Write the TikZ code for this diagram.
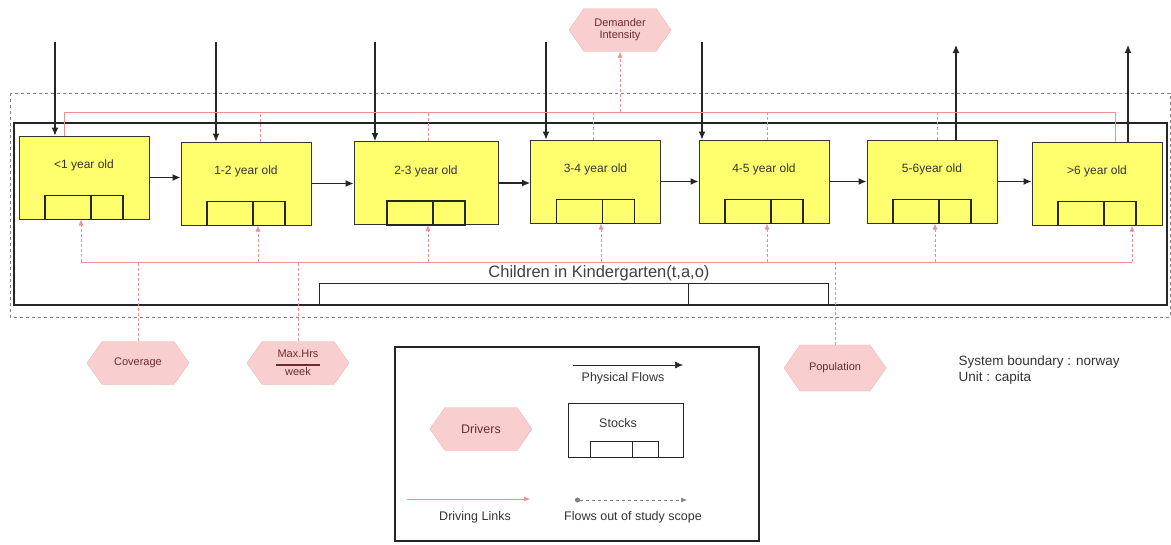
\documentclass[tikz,border=0pt]{standalone}
\usepackage{fontspec}
\setmainfont{Liberation Sans}
\usetikzlibrary{shapes.symbols, arrows.meta, calc}
\tikzset{>={Latex[length=8pt,width=7pt]}}
\definecolor{stockyellow}{RGB}{255,255,110}
\definecolor{driverpink}{RGB}{249,206,206}
\definecolor{driverline}{RGB}{240,178,178}
\definecolor{linkpink}{RGB}{240,145,145}
\definecolor{drivertext}{RGB}{105,45,45}

\begin{document}
\begin{tikzpicture}[
  x=1pt, y=-1pt,
  stockbox/.style={rectangle, draw=black!80, fill=stockyellow, line width=1pt, minimum height=83pt},
  agelabel/.style={font=\fontsize{12}{14}\selectfont, text=black!80},
  driver/.style={signal, signal to=west and east, signal pointer angle=110, draw=driverline, fill=driverpink, minimum width=102pt, minimum height=43pt, text=drivertext, font=\fontsize{11}{12}\selectfont, inner sep=2pt, align=center},
  flow/.style={->, line width=1.1pt, black!85},
  drivelink/.style={-{Latex[length=6pt,width=5pt]}, linkpink, line width=0.6pt},
  linkline/.style={linkpink, line width=0.6pt},
  labelstyle/.style={font=\fontsize{12.5}{15}\selectfont, text=black!80}
]
\useasboundingbox (0,0) rectangle (1171,544);

% System boundaries
\draw[gray, dashed, line width=1pt] (10,93) rectangle (1170,317);
\draw[black!85, line width=2pt] (14,123) rectangle (1167,305);

% Stocks of children by age
\foreach \n/\x/\y/\w/\t in {b1/84/177.5/130/{<1 year old}, b2/246/183.5/130/{1-2 year old}, b3/426/183/144/{2-3 year old}, b4/595.5/181.5/130/{3-4 year old}, b5/764/181.5/130/{4-5 year old}, b6/932/181.5/130/{5-6year old}, b7/1097/183.5/130/{>6 year old}}{
  \node[stockbox, minimum width=\w pt] (\n) at (\x,\y) {};
  \node[agelabel] (\n-t) at ([yshift=-30pt]\n.north) {\t};
  \draw[line width=1.3pt, black!85] ([xshift=-39pt]\n.south) rectangle ([xshift=39pt, yshift=24pt]\n.south);
  \draw[line width=1.3pt, black!85] ([xshift=7pt]\n.south) -- ([xshift=7pt, yshift=24pt]\n.south);
}

% Total stock
\node[font=\fontsize{16.5}{18}\selectfont, text=black!75] (kg) at (599,273) {Children in Kindergarten(t,a,o)};
\draw[black!85, line width=1pt] (319,305) -- (319,283) -- (828,283) -- (828,305);
\draw[black!85, line width=1pt] (688,283) -- (688,305);

% Physical flows between age groups
\draw[flow] (b1.east) -- (b1.east -| b2.west);
\draw[flow] (b2.east) -- (b2.east -| b3.west);
\draw[flow] (b3.east) -- (b3.east -| b4.west);
\draw[flow] (b4.east) -- (b4.east -| b5.west);
\draw[flow] (b5.east) -- (b5.east -| b6.west);
\draw[flow] (b6.east) -- (b6.east -| b7.west);

% Inflows from above
\foreach \n/\x in {b1/55, b2/216, b3/375, b4/546, b5/702}{
  \coordinate (in-\n) at (\x,42);
  \draw[flow] (in-\n) -- (in-\n |- \n.north);
}

% Outflows
\coordinate (out-b6) at (956,45);
\coordinate (out-b7) at (1128,45);
\draw[flow] (out-b6 |- b6.north) -- (out-b6);
\draw[flow] (out-b7 |- b7.north) -- (out-b7);

% Drivers
\node[driver] (dint) at (620,30) {Demander\\Intensity};
\node[driver] (cov) at (138,363) {Coverage};
\node[driver] (maxhrs) at (298,363) {Max.Hrs\\[-4pt]\rule{44pt}{1.5pt}\\[-2pt]week};
\node[driver, minimum height=46pt] (pop) at (835,368) {Population};

% Driving links to demand intensity
\coordinate (tl) at (64,112);
\coordinate (tr) at (1115,112);
\draw[linkline] (tl |- b1.north) -- (tl) -- (tr) -- (tr |- b7.north);
\foreach \n/\x in {b2/260, b3/428, b4/593, b5/767, b6/937}
  \draw[linkline, densely dashed] (\x,0 |- \n.north) -- (\x,112);
\draw[drivelink, densely dashed] (dint |- tl) -- (dint.south);

% Driving links into the stocks
\coordinate (bl) at (81,262);
\coordinate (br) at (1132,262);
\draw[linkline] (bl) -- (br);
\foreach \n/\x in {b1/81, b2/258, b3/428, b4/601, b5/767, b6/935, b7/1132}
  \draw[drivelink, densely dashed] (\x,262) -- (\x,0 |- \n.south);
\draw[linkline, densely dashed] (cov.north) -- (cov |- bl);
\draw[linkline, densely dashed] (maxhrs.north) -- (maxhrs |- bl);
\draw[linkline, densely dashed] (pop.north) -- (pop |- bl);

% System info
\node[anchor=west, align=left, font=\fontsize{13.5}{16}\selectfont, text=black!80] (sysb) at (955,370) {System boundary : norway\\Unit : capita};

% Legend
\node[draw=black!85, line width=1.2pt, minimum width=364pt, minimum height=194pt] (legend) at (577,444) {};
\coordinate (pf-a) at (573,365);
\coordinate (pf-b) at (683,365);
\draw[->, black!85, line width=0.6pt] (pf-a) -- (pf-b);
\node[labelstyle] (pf-t) at (623,378) {Physical Flows};
\node[driver, font=\fontsize{12.5}{14}\selectfont] (drv) at (481,429) {Drivers};
\node[draw=black!85, line width=1pt, minimum width=115pt, minimum height=54pt] (stk) at (625.5,430) {};
\node[labelstyle] (stk-t) at (618,423) {Stocks};
\draw[black!85, line width=0.8pt] (590,457) -- (590,441) -- (658,441) -- (658,457);
\draw[black!85, line width=0.8pt] (632,441) -- (632,457);
\coordinate (dl-a) at (407,499);
\coordinate (dl-b) at (530,499);
\draw[drivelink] (dl-a) -- (dl-b);
\node[labelstyle] (dl-t) at (475,517) {Driving Links};
\coordinate (os-a) at (575,500);
\coordinate (os-b) at (687,500);
\draw[{Circle[length=5pt]}-{Latex[length=6pt,width=5pt]}, gray, dashed, line width=0.6pt] (os-a) -- (os-b);
\node[labelstyle] (os-t) at (633,517) {Flows out of study scope};

\end{tikzpicture}
\end{document}
